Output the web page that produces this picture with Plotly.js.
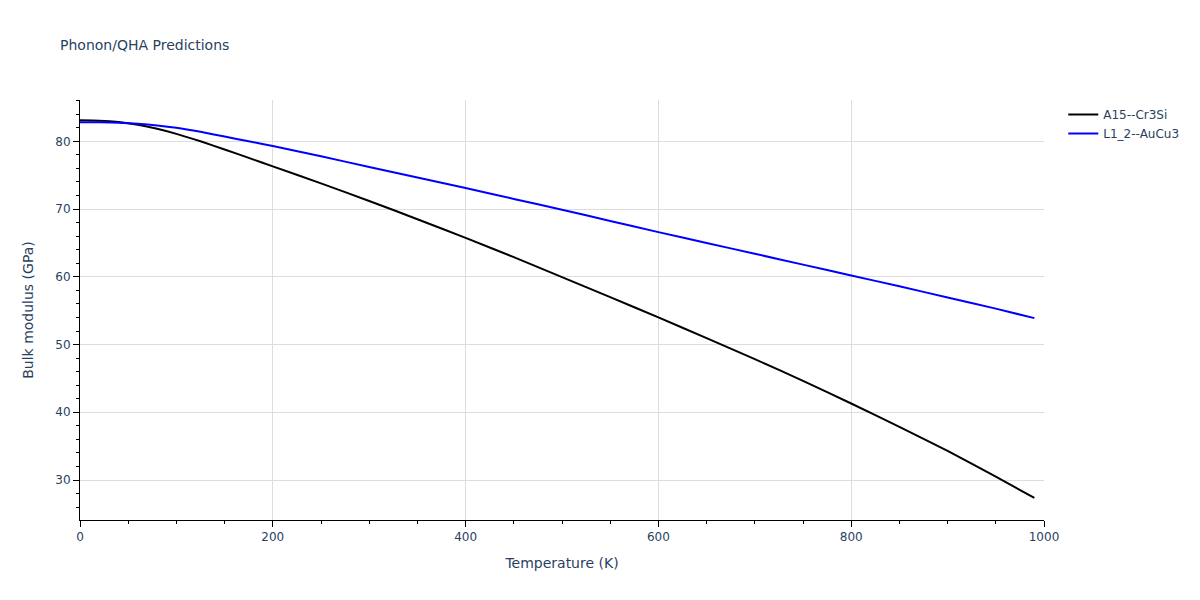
<!DOCTYPE html>
<html>
<head>
<meta charset="utf-8">
<script src="https://cdn.plot.ly/plotly-3.0.1.min.js"></script>
<style>html,body{margin:0;padding:0;background:#fff;}</style>
</head>
<body>
<div id="chart" style="width:1200px;height:600px;"></div>
<script>
const temperatureK = [0, 20, 40, 60, 80, 100, 125, 150, 175, 200, 250, 300, 350, 400, 450, 500, 550, 600, 650, 700, 750, 800, 850, 900, 950, 990];
const bulkA15Cr3Si = [83.1, 83.05, 82.85, 82.45, 81.85, 81.1, 80.0, 78.8, 77.55, 76.3, 73.8, 71.2, 68.5, 65.75, 62.9, 59.95, 57.0, 54.0, 50.95, 47.85, 44.65, 41.3, 37.85, 34.3, 30.5, 27.35];
const bulkL12AuCu3 = [82.8, 82.8, 82.75, 82.6, 82.35, 82.0, 81.4, 80.7, 80.0, 79.3, 77.8, 76.2, 74.65, 73.1, 71.5, 69.9, 68.25, 66.6, 65.0, 63.4, 61.8, 60.2, 58.6, 56.95, 55.3, 53.9];
const seriesNames = ["A15--Cr3Si", "L1_2--AuCu3"];

const traces = [
  {x: temperatureK, y: bulkA15Cr3Si, name: seriesNames[0], type: "scatter", mode: "lines", line: {color: "black", width: 2, shape: "spline", smoothing: 0.6}},
  {x: temperatureK, y: bulkL12AuCu3, name: seriesNames[1], type: "scatter", mode: "lines", line: {color: "blue", width: 2, shape: "spline", smoothing: 0.6}}
];

const FONT = "'DejaVu Sans', Verdana, sans-serif";
const axisCommon = {
  showline: true, linecolor: "black", linewidth: 1,
  ticks: "outside", ticklen: 6, tickcolor: "black",
  showgrid: true, gridcolor: "#dddddd", gridwidth: 1,
  zeroline: false,
  tickfont: {family: FONT, size: 12, color: "#2a3f5f"}
};

const layout = {
  width: 1200, height: 600,
  paper_bgcolor: "white", plot_bgcolor: "white",
  font: {family: FONT, size: 12, color: "#2a3f5f"},
  title: {text: "Phonon/QHA Predictions", x: 0.05, font: {family: FONT, size: 14, color: "#2a3f5f"}},
  margin: {l: 80, r: 156, t: 100, b: 80},
  xaxis: Object.assign({}, axisCommon, {
    range: [0, 1000], dtick: 200, tick0: 0,
    minor: {dtick: 50, ticks: "outside", ticklen: 3, tickcolor: "black", showgrid: false},
    title: {text: "Temperature (K)", standoff: 14, font: {family: FONT, size: 14, color: "#2a3f5f"}}
  }),
  yaxis: Object.assign({}, axisCommon, {
    range: [24.1, 86.1], dtick: 10, tick0: 0,
    minor: {dtick: 2, ticks: "outside", ticklen: 3, tickcolor: "black", showgrid: false},
    title: {text: "Bulk modulus (GPa)", standoff: 18, font: {family: FONT, size: 14, color: "#2a3f5f"}}
  }),
  legend: {font: {family: FONT, size: 12, color: "#2a3f5f"}},
  showlegend: true
};

Plotly.newPlot("chart", traces, layout, {displayModeBar: false});
</script>
</body>
</html>
